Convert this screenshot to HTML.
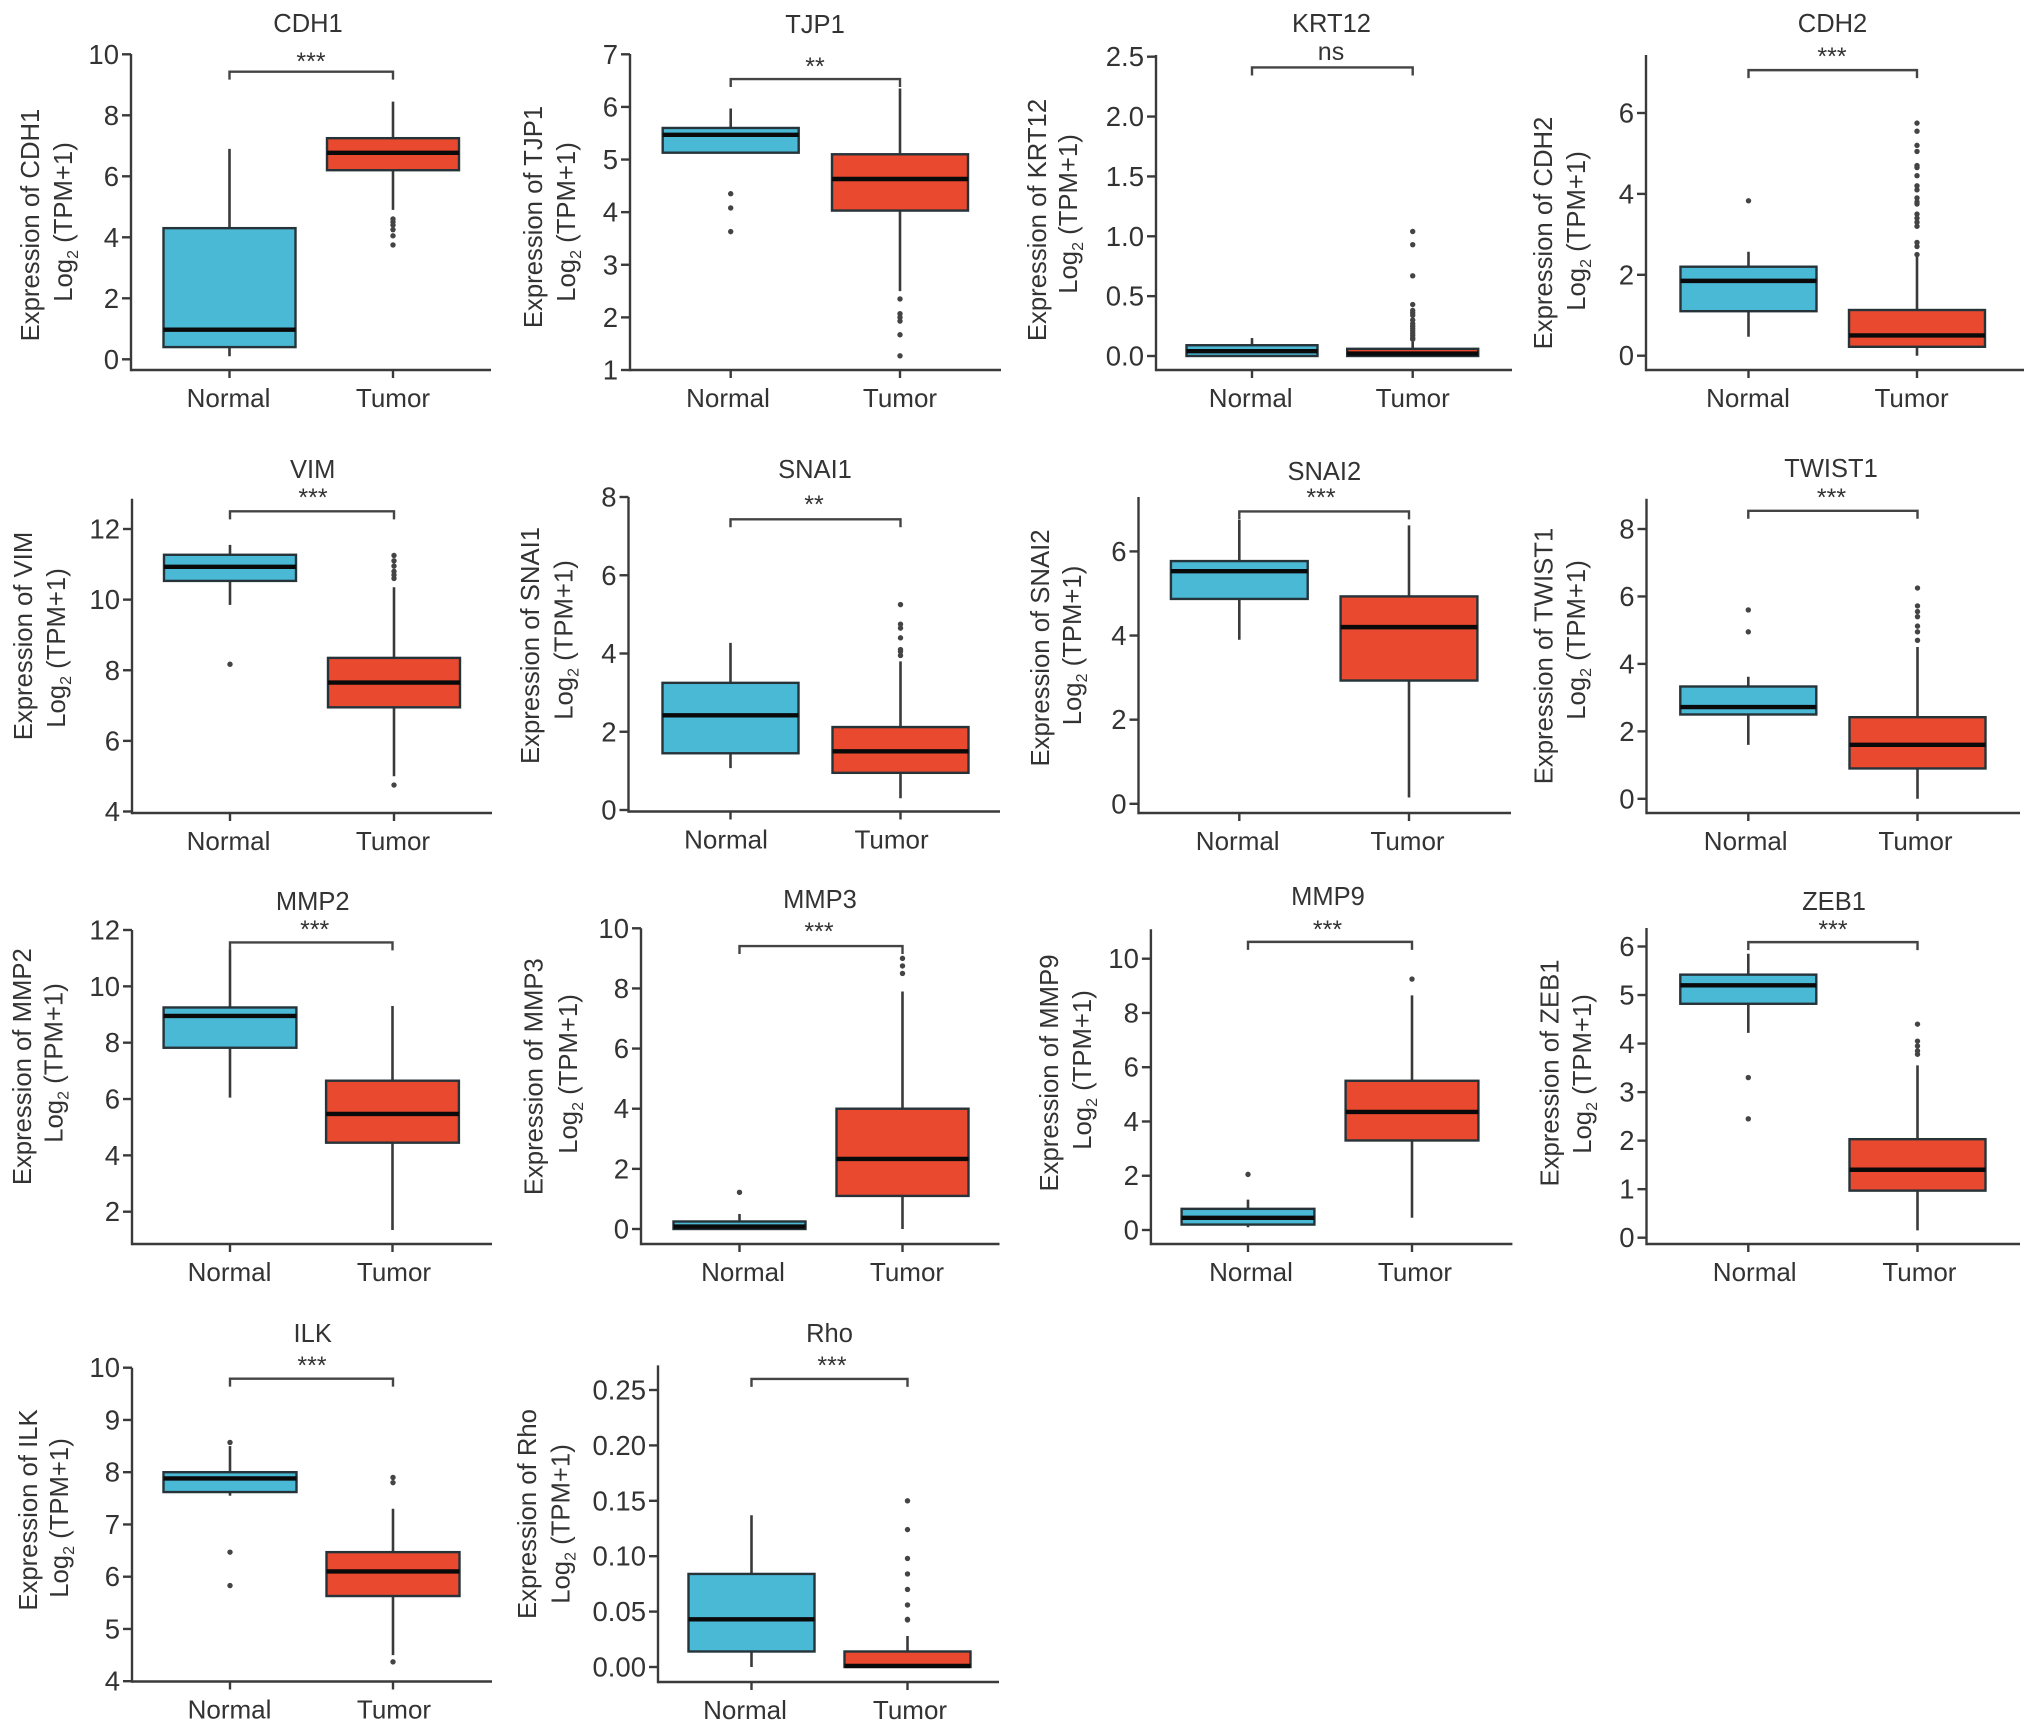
<!DOCTYPE html>
<html lang="en">
<head>
<meta charset="utf-8">
<title>Gene expression box plots</title>
<style>
  html, body { margin: 0; padding: 0; background: #fff; }
  #chart { display: block; width: 2032px; height: 1730px; }
  text { font-family: "Liberation Sans", sans-serif; fill: #333; }
</style>
</head>
<body>
<svg id="chart" xmlns="http://www.w3.org/2000/svg" width="2032" height="1730" viewBox="0 0 2032 1730"></svg>
<script>
// ---- Data ----
const genes = ["CDH1","TJP1","KRT12","CDH2","VIM","SNAI1","SNAI2","TWIST1","MMP2","MMP3","MMP9","ZEB1","ILK","Rho"];
const categories = ["Normal","Tumor"];
// [lower whisker, q1, median, q3, upper whisker]
const normalBoxes = [
  [0.1,0.4,0.97,4.3,6.9],
  [5.13,5.13,5.47,5.6,5.97],
  [0,0,0.04,0.09,0.15],
  [0.47,1.1,1.85,2.2,2.57],
  [9.85,10.53,10.93,11.27,11.55],
  [1.07,1.45,2.42,3.25,4.27],
  [3.9,4.87,5.53,5.77,6.75],
  [1.6,2.5,2.72,3.33,3.62],
  [6.05,7.82,8.95,9.25,11.3],
  [0,0,0.08,0.25,0.5],
  [0.1,0.2,0.45,0.78,1.12],
  [4.22,4.82,5.2,5.42,5.85],
  [7.55,7.62,7.88,8.0,8.5],
  [0,0.014,0.043,0.084,0.137]
];
const tumorBoxes = [
  [4.9,6.2,6.77,7.25,8.45],
  [2.5,4.03,4.63,5.1,6.35],
  [0,0,0.02,0.06,0.12],
  [0,0.22,0.5,1.13,2.45],
  [5,6.95,7.65,8.35,10.35],
  [0.3,0.95,1.5,2.12,3.8],
  [0.15,2.93,4.2,4.93,6.62],
  [0,0.9,1.6,2.42,4.5],
  [1.35,4.45,5.47,6.65,9.3],
  [0,1.1,2.33,4.0,7.9],
  [0.45,3.3,4.35,5.5,8.65],
  [0.15,0.97,1.4,2.03,3.55],
  [4.5,5.63,6.1,6.47,7.3],
  [0,0,0.001,0.014,0.028]
];
const normalOutliers = [
  [],
  [4.35,4.08,3.63],
  [],
  [3.83],
  [8.17],
  [],
  [],
  [5.6,4.95],
  [],
  [1.22],
  [2.05],
  [3.3,2.45],
  [8.57,6.47,5.83],
  []
];
const tumorOutliers = [
  [4.6,4.5,4.4,4.25,4.05,3.75],
  [2.35,2.07,2.0,1.93,1.67,1.27],
  [1.04,0.93,0.67,0.43,0.38,0.36,0.34,0.3,0.27,0.25,0.23,0.21,0.19,0.17,0.15,0.14],
  [5.75,5.55,5.2,5.05,4.7,4.65,4.45,4.2,4.1,3.9,3.8,3.75,3.5,3.4,3.3,3.2,2.8,2.7,2.5],
  [11.25,11.1,10.95,10.8,10.7,10.6,4.75],
  [5.25,4.75,4.65,4.4,4.1,4.05,3.95],
  [],
  [6.25,5.72,5.55,5.4,5.12,4.95,4.7],
  [],
  [9.0,8.75,8.5],
  [9.25],
  [4.4,4.05,3.95,3.85,3.78],
  [7.9,7.8,4.37],
  [0.15,0.124,0.098,0.084,0.07,0.056,0.043,0.0425]
];
const tickLabels = [
  ["0","2","4","6","8","10"],
  ["1","2","3","4","5","6","7"],
  ["0.0","0.5","1.0","1.5","2.0","2.5"],
  ["0","2","4","6"],
  ["4","6","8","10","12"],
  ["0","2","4","6","8"],
  ["0","2","4","6"],
  ["0","2","4","6","8"],
  ["2","4","6","8","10","12"],
  ["0","2","4","6","8","10"],
  ["0","2","4","6","8","10"],
  ["0","1","2","3","4","5","6"],
  ["4","5","6","7","8","9","10"],
  ["0.00","0.05","0.10","0.15","0.20","0.25"]
];
const bracketValues = [9.43,6.53,2.41,7.06,12.5,7.43,6.95,8.54,11.56,9.41,10.62,6.09,9.79,0.26];
const significance = ["***","**","ns","***","***","**","***","***","***","***","***","***","***","***"];

// ---- Layout only (pixels), no data values below except the axis calibration ----
const panelFrames = [
  {l:131,r:491,t:54,b:370,cn:229.5,ct:393,h:66,lnx:228.5,ltx:393,v0:0,y0:359.3,v1:10,y1:54.3,tx:308,ty:32,sx:311,sy:70,y1x:30,y1c:225,y2x:63,y2c:222},
  {l:630,r:1001,t:54,b:370,cn:730.7,ct:900,h:68,lnx:728,ltx:900,v0:1,y0:370,v1:7,y1:54.3,tx:815,ty:33,sx:815,sy:75,y1x:533,y1c:217,y2x:566,y2c:222},
  {l:1156,r:1512,t:55,b:370,cn:1252,ct:1412.7,h:65.5,lnx:1250.7,ltx:1412.7,v0:0,y0:356,v1:2.5,y1:56.7,tx:1331.5,ty:32,sx:1331,sy:60,y1x:1037,y1c:220,y2x:1068,y2c:214},
  {l:1646,r:2024,t:55,b:370,cn:1748.5,ct:1917,h:68,lnx:1748,ltx:1911.6,v0:0,y0:355.7,v1:6,y1:113,tx:1832.5,ty:32,sx:1832,sy:65,y1x:1543,y1c:233,y2x:1576,y2c:231},
  {l:132,r:492,t:498.7,b:813,cn:230,ct:394,h:66,lnx:228.5,ltx:393,v0:4,y0:811.5,v1:12,y1:529,tx:312.7,ty:478,sx:313,sy:506,y1x:23,y1c:636,y2x:56,y2c:648},
  {l:628.5,r:1000,t:497,b:811.5,cn:730.5,ct:900.5,h:68,lnx:726,ltx:891.6,v0:0,y0:810,v1:8,y1:497,tx:815,ty:478,sx:814,sy:513,y1x:530,y1c:645.5,y2x:563.5,y2c:640},
  {l:1138.5,r:1511,t:497,b:813,cn:1239.3,ct:1409,h:68.4,lnx:1237.7,ltx:1407.5,v0:0,y0:803.8,v1:6,y1:551.4,tx:1324.3,ty:480,sx:1321,sy:506,y1x:1040,y1c:648,y2x:1072,y2c:645.5},
  {l:1646.5,r:2020,t:498.7,b:813,cn:1748.3,ct:1917.5,h:68,lnx:1745.7,ltx:1915.5,v0:0,y0:798.8,v1:8,y1:529,tx:1831,ty:477,sx:1831.5,sy:506,y1x:1543.5,y1c:656,y2x:1576,y2c:640},
  {l:132,r:492,t:930,b:1244,cn:230,ct:392.5,h:66.4,lnx:229.5,ltx:394,v0:2,y0:1211.7,v1:12,y1:930,tx:312.7,ty:910,sx:314.7,sy:938,y1x:22,y1c:1066.7,y2x:53.5,y2c:1063},
  {l:641,r:999.5,t:928.3,b:1244,cn:739.5,ct:902.5,h:66,lnx:743,ltx:907,v0:0,y0:1229,v1:10,y1:928.3,tx:820,ty:908,sx:819,sy:940,y1x:533.5,y1c:1076.7,y2x:568,y2c:1074},
  {l:1150.9,r:1512.4,t:929.3,b:1244,cn:1248,ct:1412,h:66.4,lnx:1251,ltx:1415,v0:0,y0:1230,v1:10,y1:958.7,tx:1328,ty:905,sx:1327.5,sy:938,y1x:1049,y1c:1073,y2x:1082,y2c:1070},
  {l:1646.5,r:2020,t:928,b:1244,cn:1748.3,ct:1917.5,h:68,lnx:1754.7,ltx:1919.4,v0:0,y0:1237.7,v1:6,y1:946.5,tx:1834,ty:910,sx:1833,sy:938,y1x:1549.5,y1c:1073,y2x:1582,y2c:1074},
  {l:132,r:492,t:1367.7,b:1681.5,cn:230,ct:393,h:66.5,lnx:229.5,ltx:394,v0:4,y0:1681.2,v1:10,y1:1367.7,tx:312.7,ty:1342,sx:312,sy:1374,y1x:28,y1c:1510,y2x:59,y2c:1518},
  {l:658,r:999,t:1365.4,b:1682,cn:751.5,ct:907.5,h:63,lnx:745,ltx:910,v0:0,y0:1667,v1:0.25,y1:1390,tx:829.5,ty:1342,sx:832,sy:1374,y1x:527,y1c:1514,y2x:560.5,y2c:1524}
];

const SVG_NS = "http://www.w3.org/2000/svg";
const INK = "#3a3a3a";
const FILL_NORMAL = "#4ab9d6";
const FILL_TUMOR = "#e8492f";
const chart = document.getElementById("chart");

function yScale(frame, value) {
  return frame.y0 + (value - frame.v0) * (frame.y1 - frame.y0) / (frame.v1 - frame.v0);
}
function make(parent, tag, attrs) {
  const node = document.createElementNS(SVG_NS, tag);
  for (const key in attrs) node.setAttribute(key, attrs[key]);
  parent.appendChild(node);
  return node;
}

function drawBox(group, frame, cx, stats, outliers, fill, label) {
  const [lo, q1, med, q3, hi] = stats;
  const slug = label.toLowerCase();

  const whisker = make(group, "line", {x1:cx, x2:cx, y1:yScale(frame, lo), y2:yScale(frame, hi), stroke:INK, "stroke-width":2.6});
  
  

  const box = make(group, "rect", {x:cx - frame.h, width:frame.h * 2, y:yScale(frame, q3), height:Math.max(0, yScale(frame, q1) - yScale(frame, q3)), fill:fill, stroke:"#26343a", "stroke-width":2.4});
  
  

  const median = make(group, "line", {x1:cx - frame.h, x2:cx + frame.h, y1:yScale(frame, med), y2:yScale(frame, med), stroke:"#0a0a0a", "stroke-width":4.4});
  
  

  outliers.forEach(function (value) {
    const dot = make(group, "circle", {cx:cx, cy:yScale(frame, value), r:2.7, fill:"#444"});
    
    
  });
}

genes.forEach(function (gene, i) {
  const f = panelFrames[i];
  const slug = gene.toLowerCase();
  const g = make(chart, "g", {});
  
  

  const title = make(g, "text", {x:f.tx, y:f.ty, "text-anchor":"middle", "font-size":25.5});
  
  
  title.textContent = gene;

  // y axis
  const yAxis = make(g, "line", {x1:f.l, x2:f.l, y1:f.t, y2:f.b + 1.2, stroke:INK, "stroke-width":2.4});
  
  

  tickLabels[i].forEach(function (lab) {
    const y = yScale(f, Number(lab));
    const tick = make(g, "line", {x1:f.l - 9, x2:f.l, y1:y, y2:y, stroke:INK, "stroke-width":2.4});
    
    
    const txt = make(g, "text", {x:f.l - 12, y:y + 9.5, "text-anchor":"end", "font-size":27.5});
    
    
    txt.textContent = lab;
  });

  // x axis
  const xAxis = make(g, "line", {x1:f.l, x2:f.r, y1:f.b, y2:f.b, stroke:INK, "stroke-width":2.4});
  
  

  [f.cn, f.ct].forEach(function (cx, k) {
    const tick = make(g, "line", {x1:cx, x2:cx, y1:f.b, y2:f.b + 8, stroke:INK, "stroke-width":2.4});
    
    
    const txt = make(g, "text", {x:k === 0 ? f.lnx : f.ltx, y:f.b + 37, "text-anchor":"middle", "font-size":26});
    
    
    txt.textContent = categories[k];
  });

  // y axis title, two lines
  const line1 = make(g, "text", {transform:"translate(" + (f.y1x + 9) + " " + f.y1c + ") rotate(-90)", "text-anchor":"middle", "font-size":25.7});
  
  
  line1.textContent = "Expression of " + gene;

  const line2 = make(g, "text", {transform:"translate(" + (f.y2x + 9) + " " + f.y2c + ") rotate(-90)", "text-anchor":"middle", "font-size":25.7});
  
  
  line2.appendChild(document.createTextNode("Log"));
  const sub = make(line2, "tspan", {dy:6, "font-size":16});
  sub.textContent = "2";
  const rest = make(line2, "tspan", {dy:-6});
  rest.textContent = " (TPM+1)";

  // boxes
  drawBox(g, f, f.cn, normalBoxes[i], normalOutliers[i], FILL_NORMAL, "Normal");
  drawBox(g, f, f.ct, tumorBoxes[i], tumorOutliers[i], FILL_TUMOR, "Tumor");

  // significance bracket
  const by = yScale(f, bracketValues[i]);
  const bracket = make(g, "path", {d:"M" + f.cn + " " + (by + 8) + "V" + by + "H" + f.ct + "V" + (by + 8), fill:"none", stroke:"#444", "stroke-width":2.4});
  
  

  const stars = make(g, "text", {x:f.sx, y:f.sy, "text-anchor":"middle", "font-size":significance[i] === "ns" ? 25 : 25});
  
  
  stars.textContent = significance[i];
});
</script>
</body>
</html>
